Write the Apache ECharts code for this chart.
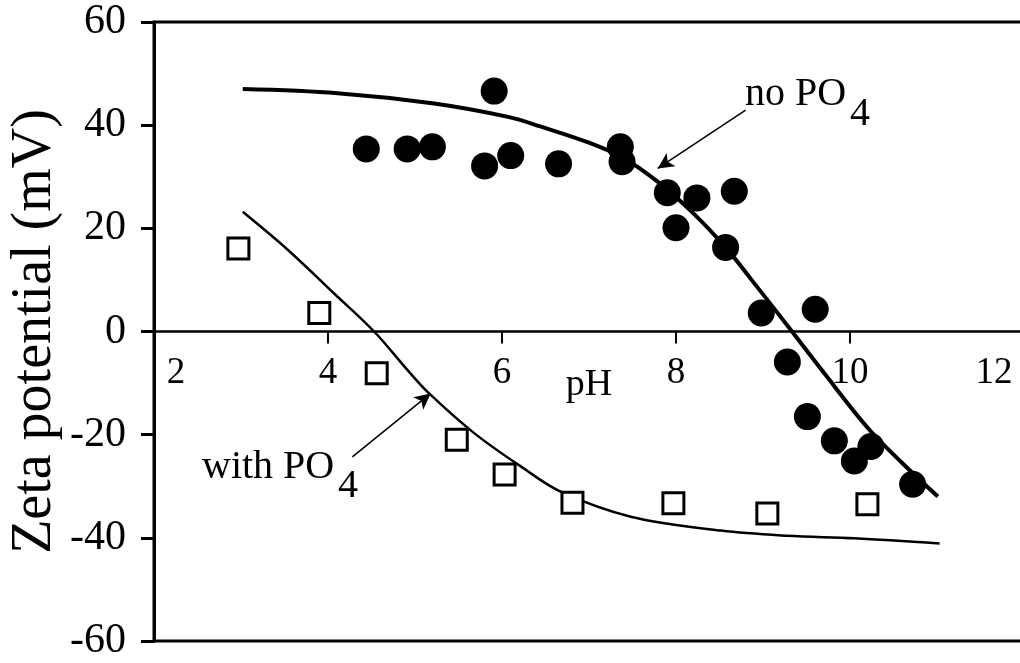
<!DOCTYPE html>
<html>
<head>
<meta charset="utf-8">
<script src="https://cdn.jsdelivr.net/npm/echarts@6/dist/echarts.min.js"></script>
<style>
html,body{margin:0;padding:0;background:#fff;}
#c{width:1020px;height:663px;}
</style>
</head>
<body>
<div id="c"></div>
<script>
// ---- data ----
const xTicks = [2, 4, 6, 8, 10, 12];
const yTicks = [-60, -40, -20, 0, 20, 40, 60];

// measured points, no phosphate (filled circles)
const noPO4pH   = [4.44, 4.91, 5.20, 5.80, 5.91, 6.10, 6.65, 7.36, 7.38, 7.90, 8.00, 8.24, 8.67, 8.57, 8.98, 9.60, 9.28, 9.51, 9.82, 10.05, 10.24, 10.72];
const noPO4Zeta = [35.4, 35.4, 35.8, 32.1, 46.6, 34.1, 32.5, 35.8, 32.9, 26.9, 20.1, 25.9, 27.2, 16.3, 3.6, 4.3, -5.9, -16.5, -21.2, -25.1, -22.3, -29.6];

// measured points, with phosphate (open squares)
const withPO4pH   = [2.97, 3.90, 4.56, 5.48, 6.03, 6.81, 7.97, 9.05, 10.20];
const withPO4Zeta = [16.1, 3.6, -8.1, -21.0, -27.7, -33.2, -33.3, -35.3, -33.5];

// fitted curves
const fitNoPH   = [3.02, 4.11, 5.22, 6.07, 6.45, 7.00, 7.40, 7.80, 8.20, 8.57, 8.86, 9.32, 9.70, 10.20, 10.60, 11.01];
const fitNoZeta = [47.0, 46.2, 44.2, 41.6, 39.7, 36.6, 33.6, 28.9, 22.9, 16.3, 10.2, 0.3, -8.0, -18.6, -25.5, -32.0];
const fitWithPH   = [3.02, 3.54, 4.03, 4.53, 4.92, 5.15, 5.68, 6.22, 6.68, 7.48, 8.52, 9.28, 10.05, 11.03];
const fitWithZeta = [23.2, 15.8, 8.0, 0.0, -7.6, -11.8, -19.7, -26.2, -31.1, -35.9, -38.6, -39.6, -40.1, -41.1];

// annotation arrows [start, end] in data units
const arrowNo   = [[8.80, 42.9], [7.79, 31.6]];
const arrowWith = [[4.28, -24.3], [5.18, -12.0]];

const zip = (a, b) => a.map((v, i) => [v, b[i]]);
const FONT = '"Liberation Serif", "Times New Roman", serif';

const GRID_TOP = 22, GRID_BOTTOM = 22, GRID_H = 663 - GRID_TOP - GRID_BOTTOM;
// place the x axis on the zero line
const yMin = yTicks[0], yMax = yTicks[yTicks.length - 1];
const xAxisOffset = -GRID_H * (0 - yMin) / (yMax - yMin);

const chart = echarts.init(document.getElementById('c'));
chart.setOption({
  animation: false,
  backgroundColor: '#fff',
  grid: {
    left: 154, width: 870, top: GRID_TOP, bottom: GRID_BOTTOM,
    containLabel: false, outerBoundsMode: 'none',
    show: true, borderColor: '#000', borderWidth: 3, backgroundColor: 'transparent'
  },
  xAxis: {
    type: 'value',
    min: xTicks[0], max: xTicks[xTicks.length - 1], interval: xTicks[1] - xTicks[0],
    offset: xAxisOffset,
    name: 'pH', nameLocation: 'middle', nameGap: 35, nameMoveOverlap: false,
    nameTextStyle: { fontFamily: FONT, fontSize: 38, color: '#000' },
    axisLine: { onZero: false, lineStyle: { color: '#000', width: 2.5 } },
    axisTick: { show: true, length: 12, lineStyle: { color: '#000', width: 2 } },
    splitLine: { show: false },
    axisLabel: {
      margin: 23, color: '#000', fontFamily: FONT, fontSize: 37,
      formatter: function (v) {
        if (v === xTicks[0]) return '{first|' + v + '}';
        if (v === xTicks[xTicks.length - 1]) return '{last|' + v + '}';
        return '' + v;
      },
      rich: {
        first: { fontFamily: FONT, fontSize: 37, color: '#000', padding: [0, 0, 0, 44] },
        last: { fontFamily: FONT, fontSize: 37, color: '#000', padding: [0, 60, 0, 0] }
      }
    }
  },
  yAxis: {
    type: 'value',
    min: yMin, max: yMax, interval: yTicks[1] - yTicks[0],
    name: 'Zeta potential (mV)', nameLocation: 'middle', nameGap: 91, nameMoveOverlap: false,
    nameTextStyle: { fontFamily: FONT, fontSize: 56, color: '#000' },
    axisLine: { show: true, onZero: false, lineStyle: { color: '#000', width: 3 } },
    axisTick: { show: true, length: 13, lineStyle: { color: '#000', width: 3 } },
    splitLine: { show: false },
    axisLabel: { margin: 28, color: '#000', fontFamily: FONT, fontSize: 42 }
  },
  series: [
    {
      name: 'fit no PO4', type: 'line', data: zip(fitNoPH, fitNoZeta),
      smooth: 0.35, symbol: 'none', lineStyle: { color: '#000', width: 4 }, z: 2,
      markLine: {
        silent: true, symbol: ['none', 'arrow'], symbolSize: [12, 16],
        label: { show: false },
        lineStyle: { color: '#000', width: 1.5, type: 'solid' },
        data: [[{ coord: arrowNo[0] }, { coord: arrowNo[1] }]]
      }
    },
    {
      name: 'fit with PO4', type: 'line', data: zip(fitWithPH, fitWithZeta),
      smooth: 0.35, symbol: 'none', lineStyle: { color: '#000', width: 2.5 }, z: 2,
      markLine: {
        silent: true, symbol: ['none', 'arrow'], symbolSize: [12, 16],
        label: { show: false },
        lineStyle: { color: '#000', width: 1.5, type: 'solid' },
        data: [[{ coord: arrowWith[0] }, { coord: arrowWith[1] }]]
      }
    },
    {
      name: 'no PO4', type: 'scatter', data: zip(noPO4pH, noPO4Zeta),
      symbol: 'circle', symbolSize: 27, itemStyle: { color: '#000', opacity: 1 }, z: 5
    },
    {
      name: 'with PO4', type: 'scatter', data: zip(withPO4pH, withPO4Zeta),
      symbol: 'rect', symbolSize: 21,
      itemStyle: { color: '#fff', borderColor: '#000', borderWidth: 3, opacity: 1 }, z: 5
    }
  ],
  graphic: [
    { type: 'text', left: 745, top: 74, style: { text: 'no PO', font: '40px ' + FONT, fill: '#000' } },
    { type: 'text', left: 850, top: 94, style: { text: '4', font: '40px ' + FONT, fill: '#000' } },
    { type: 'text', left: 202, top: 447, style: { text: 'with PO', font: '40px ' + FONT, fill: '#000' } },
    { type: 'text', left: 338, top: 466, style: { text: '4', font: '40px ' + FONT, fill: '#000' } }
  ]
});
</script>
</body>
</html>
